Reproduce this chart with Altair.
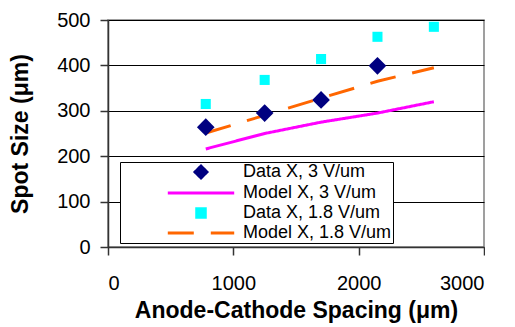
import altair as alt
import pandas as pd

series_names = ["Data X, 3 V/um", "Model X, 3 V/um", "Data X, 1.8 V/um", "Model X, 1.8 V/um"]
colors = ["#000080", "#FF00FF", "#00FFFF", "#FF6600"]

data3_x = [780, 1250, 1700, 2150]
data3_y = [264, 295, 324, 399]
model3_x = [780, 1250, 1700, 2150, 2600]
model3_y = [216, 250, 275, 295, 320]
data18_x = [780, 1250, 1700, 2150, 2600]
data18_y = [315, 368, 414, 463, 485]
model18_x = [780, 1250, 1700, 2150, 2600]
model18_y = [251, 290, 328, 365, 395]

pts = pd.DataFrame(
    [{"x": x, "y": y, "s": series_names[0]} for x, y in zip(data3_x, data3_y)]
    + [{"x": x, "y": y, "s": series_names[2]} for x, y in zip(data18_x, data18_y)]
)
lines = pd.DataFrame(
    [{"x": x, "y": y, "s": series_names[1]} for x, y in zip(model3_x, model3_y)]
    + [{"x": x, "y": y, "s": series_names[3]} for x, y in zip(model18_x, model18_y)]
)

FONT = "Liberation Sans"

color_scale = alt.Scale(domain=series_names, range=colors)
shape_scale = alt.Scale(
    domain=series_names,
    range=["M0,-1.25L1.25,0L0,1.25L-1.25,0Z", "M-7,0L7,0", "M-0.9,-0.9L0.9,-0.9L0.9,0.9L-0.9,0.9Z", "M-7,0L7,0"],
)
dash_scale = alt.Scale(domain=series_names, range=[[1, 0], [1, 0], [1, 0], [26, 17]])

legend = alt.Legend(
    title=None,
    orient="none",
    legendX=12,
    legendY=142,
    fillColor="white",
    strokeColor="black",
    padding=1,
    labelFont=FONT,
    labelFontSize=18,
    labelColor="black",
    symbolSize=90,
    symbolStrokeWidth=3,
    rowPadding=0,
    labelOffset=33,
    symbolOffset=71,
)

x_enc = alt.X(
    "x:Q",
    scale=alt.Scale(domain=[0, 3000]),
    axis=alt.Axis(values=[0, 1000, 2000, 3000], format="d",
                  title="Anode-Cathode Spacing (μm)", grid=False),
)
y_enc = alt.Y(
    "y:Q",
    scale=alt.Scale(domain=[0, 500]),
    axis=alt.Axis(values=[0, 100, 200, 300, 400, 500], format="d",
                  title="Spot Size (μm)", grid=True),
)

point_layer = alt.Chart(pts).mark_point(filled=True, opacity=1).encode(
    x=x_enc,
    y=y_enc,
    color=alt.Color("s:N", scale=color_scale, legend=legend),
    shape=alt.Shape("s:N", scale=shape_scale, legend=legend),
    size=alt.condition(alt.datum.s == series_names[0], alt.value(200), alt.value(125)),
)

line_layer = alt.Chart(lines).mark_line(strokeWidth=3).encode(
    x=x_enc,
    y=y_enc,
    color=alt.Color("s:N", scale=color_scale, legend=legend),
    strokeDash=alt.StrokeDash("s:N", scale=dash_scale, legend=legend),
)

chart = alt.layer(line_layer, point_layer).properties(
    width=376, height=227, padding={"left": 1, "top": 2, "right": 0, "bottom": 2}
).configure_view(stroke="#808080", strokeWidth=1.5).configure_axis(
    labelFont=FONT,
    labelFontSize=20,
    labelColor="black",
    titleFont=FONT,
    titleFontSize=23,
    titleFontWeight="bold",
    titleColor="black",
    domainColor="#333333",
    domainWidth=1.5,
    tickColor="#333333",
    tickSize=8,
    tickWidth=1.5,
    gridColor="black",
    gridWidth=1,
    gridOpacity=1,
).configure_axisY(titlePadding=24, labelPadding=10).configure_axisX(titlePadding=6, labelPadding=18)

chart.save("out.html", embed_options={"renderer": "svg", "actions": False})
